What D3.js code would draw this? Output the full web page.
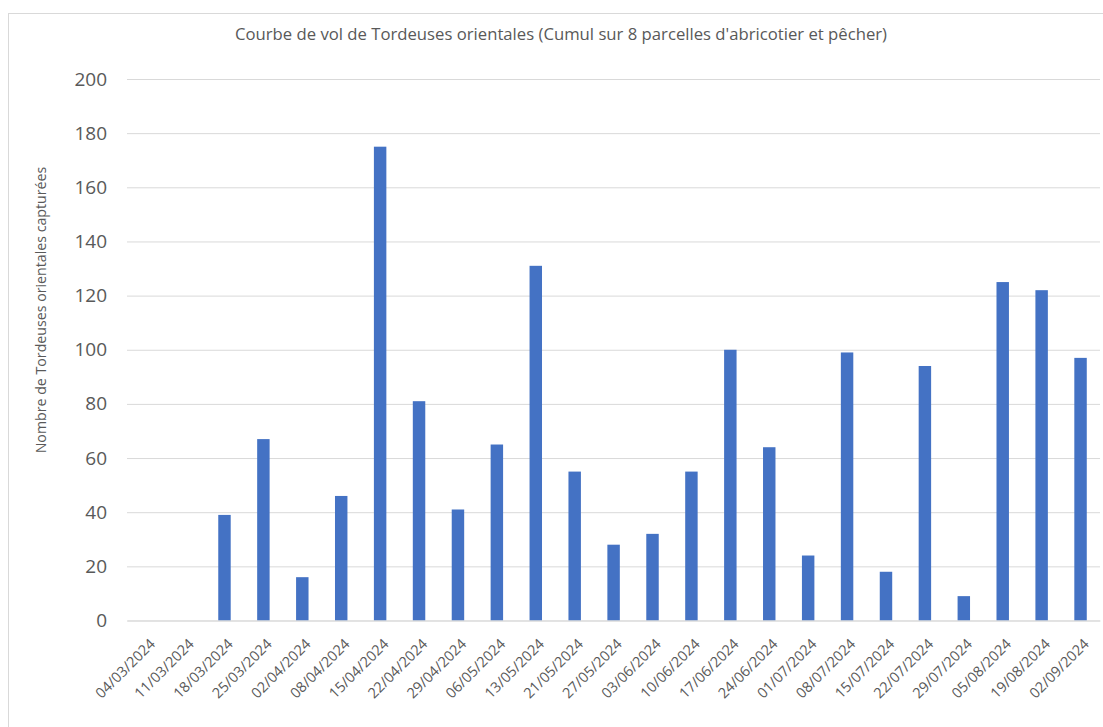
<!DOCTYPE html>
<html>
<head>
<meta charset="utf-8">
<script src="https://cdn.jsdelivr.net/npm/d3@7"></script>
<style>
  html, body { margin: 0; padding: 0; background: #fff; }
  svg { display: block; }
  text { font-family: "Open Sans", "Noto Sans", sans-serif; fill: #595959; }
</style>
</head>
<body>
<svg id="chart" width="1103" height="727"></svg>
<script>
const categories = ["04/03/2024","11/03/2024","18/03/2024","25/03/2024","02/04/2024","08/04/2024","15/04/2024","22/04/2024","29/04/2024","06/05/2024","13/05/2024","21/05/2024","27/05/2024","03/06/2024","10/06/2024","17/06/2024","24/06/2024","01/07/2024","08/07/2024","15/07/2024","22/07/2024","29/07/2024","05/08/2024","19/08/2024","02/09/2024"];
const captures = [0,0,39,67,16,46,175,81,41,65,131,55,28,32,55,100,64,24,99,18,94,9,125,122,97];
const yTicks = [0,20,40,60,80,100,120,140,160,180,200];
const title = "Courbe de vol de Tordeuses orientales (Cumul sur 8 parcelles d'abricotier et pêcher)";
const yLabel = "Nombre de Tordeuses orientales capturées";

const svg = d3.select("#chart");

// chart border
svg.append("rect")
  .attr("x", 8.5).attr("y", 13.5)
  .attr("width", 1200).attr("height", 800)
  .attr("fill", "none").attr("stroke", "#d9d9d9").attr("stroke-width", 1);

const x = d3.scaleBand()
  .domain(categories)
  .range([127.2, 1100])
  .paddingInner(0.68)
  .paddingOuter(0.34);

const y = d3.scaleLinear().domain([0, 200]).range([620.5, 79]);

// gridlines
const yAxis = d3.axisLeft(y).tickValues(yTicks).tickSize(-(1100 - 127)).tickPadding(20).tickFormat(d3.format("d"));
const gY = svg.append("g").attr("transform", "translate(127,0)").call(yAxis);
gY.select(".domain").remove();
gY.selectAll(".tick line").attr("stroke", "#d9d9d9").attr("stroke-width", 1);
gY.selectAll(".tick text")
  .attr("x", -20)
  .style("font-size", "19px")
  .attr("fill", "#595959");

// bars
svg.append("g").selectAll("rect")
  .data(categories.map((c, i) => ({c, v: captures[i]})))
  .join("rect")
  .attr("x", d => x(d.c))
  .attr("width", x.bandwidth())
  .attr("y", d => y(d.v))
  .attr("height", d => y(0) - y(d.v))
  .attr("fill", "#4472c4");

// x axis
const xAxis = d3.axisBottom(x).tickSize(0).tickPadding(0);
const gX = svg.append("g").attr("transform", `translate(0,${y(0)})`).call(xAxis);
gX.select(".domain").attr("stroke", "#d9d9d9");
gX.selectAll(".tick text")
  .style("font-size", "14.5px")
  .attr("fill", "#595959")
  .attr("text-anchor", "end")
  .attr("y", 0)
  .attr("dy", "0.72em")
  .attr("transform", "translate(2,17) rotate(-45)");

// title
svg.append("text")
  .attr("x", 561).attr("y", 40)
  .attr("text-anchor", "middle")
  .style("font-size", "16.7px")
  .text(title);

// y label
svg.append("text")
  .attr("transform", "translate(46,310) rotate(-90)")
  .attr("text-anchor", "middle")
  .style("font-size", "14.2px")
  .text(yLabel);
</script>
</body>
</html>
